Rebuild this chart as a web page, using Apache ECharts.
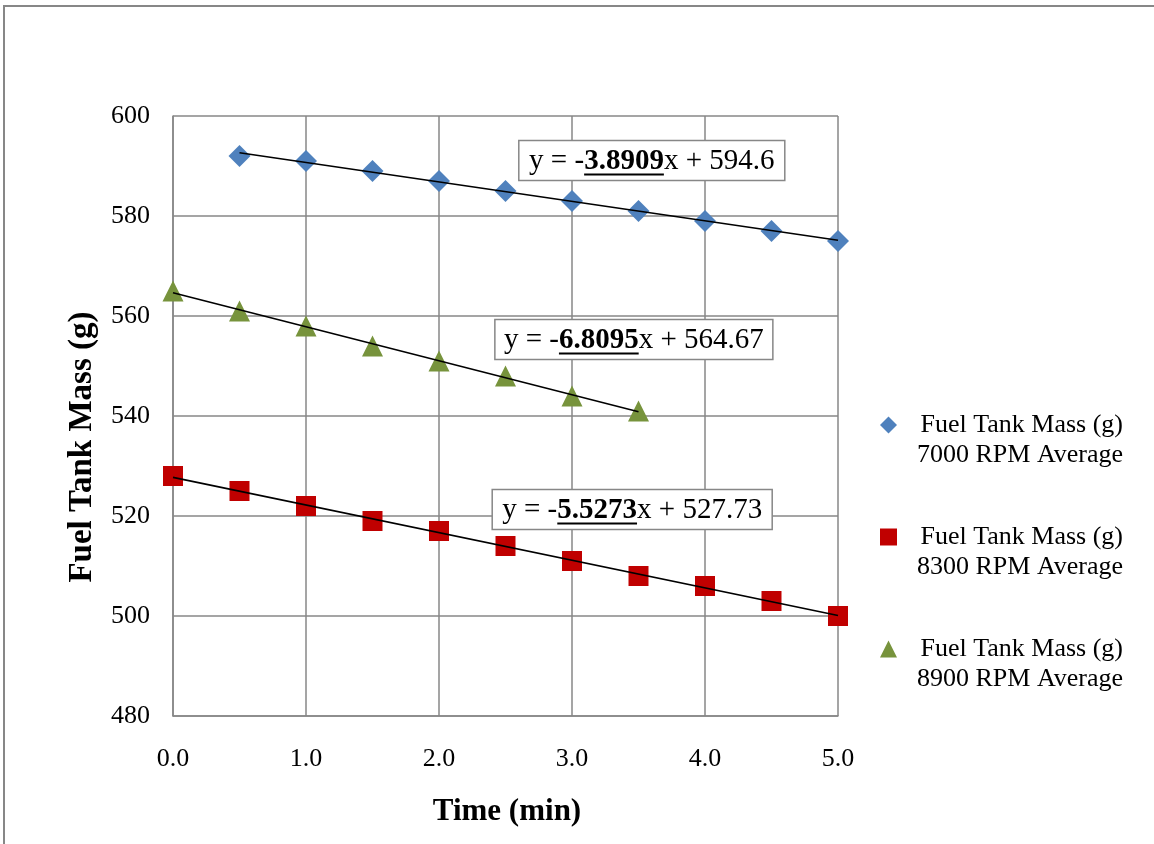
<!DOCTYPE html>
<html>
<head>
<meta charset="utf-8">
<script src="https://cdn.jsdelivr.net/npm/echarts@6/dist/echarts.min.js"></script>
<style>html,body{margin:0;padding:0;background:#fff}#c{width:1154px;height:844px}</style>
</head>
<body>
<div id="c"></div>
<script>
// ---- data ----
const time7000 = [0.5, 1.0, 1.5, 2.0, 2.5, 3.0, 3.5, 4.0, 4.5, 5.0];
const mass7000 = [592, 591, 589, 587, 585, 583, 581, 579, 577, 575];
const time8300 = [0.0, 0.5, 1.0, 1.5, 2.0, 2.5, 3.0, 3.5, 4.0, 4.5, 5.0];
const mass8300 = [528, 525, 522, 519, 517, 514, 511, 508, 506, 503, 500];
const time8900 = [0.0, 0.5, 1.0, 1.5, 2.0, 2.5, 3.0, 3.5];
const mass8900 = [565, 561, 558, 554, 551, 548, 544, 541];
const seriesNames = [
  'Fuel Tank Mass (g)\n7000 RPM Average',
  'Fuel Tank Mass (g)\n8300 RPM Average',
  'Fuel Tank Mass (g)\n8900 RPM Average'
];
const xAxisTitle = 'Time (min)';
const yAxisTitle = 'Fuel Tank Mass (g)';
const xRange = [0, 5, 1];
const yRange = [480, 600, 20];
// equation label anchors (data coords of box top-left), per series 7000, 8300, 8900
const eqAnchors = [[2.6, 595.1], [2.40, 525.3], [2.42, 559.3]];

const FONT = '"Liberation Serif", "Times New Roman", serif';
const colors = ['#4F81BD', '#C00000', '#77933C'];
const symbols = ['diamond', 'rect', 'triangle'];
const symbolSizes = [22, 20, 21];
const eqBoxWidths = [266, 280, 278];
const sets = [[time7000, mass7000], [time8300, mass8300], [time8900, mass8900]];

function regress(xs, ys) {
  const n = xs.length;
  const mx = xs.reduce((a, b) => a + b, 0) / n;
  const my = ys.reduce((a, b) => a + b, 0) / n;
  let sxy = 0, sxx = 0;
  for (let i = 0; i < n; i++) { sxy += (xs[i] - mx) * (ys[i] - my); sxx += (xs[i] - mx) ** 2; }
  const m = sxy / sxx;
  return { m, b: my - m * mx };
}
const fits = sets.map(s => regress(s[0], s[1]));

const series = [];
sets.forEach((s, i) => {
  series.push({
    name: seriesNames[i], type: 'scatter', symbol: symbols[i], symbolSize: symbolSizes[i],
    itemStyle: { color: colors[i], opacity: 1 }, z: 2,
    data: s[0].map((x, j) => [x, s[1][j]])
  });
});
sets.forEach((s, i) => {
  const x0 = Math.min(...s[0]), x1 = Math.max(...s[0]);
  const f = fits[i];
  series.push({
    name: 'trend' + i, type: 'line', symbol: 'none', z: 5, silent: true,
    lineStyle: { color: '#000', width: 1.6 },
    data: [[x0, f.m * x0 + f.b], [x1, f.m * x1 + f.b]]
  });
});

const chart = echarts.init(document.getElementById('c'), null, { renderer: 'canvas' });
chart.setOption({
  animation: false,
  backgroundColor: '#fff',
  grid: { left: 173, right: 316, top: 116, bottom: 128 },
  xAxis: {
    type: 'value', min: xRange[0], max: xRange[1], interval: xRange[2],
    axisLine: { lineStyle: { color: '#878787', width: 1.5 } },
    axisTick: { show: false },
    splitLine: { show: true, lineStyle: { color: '#878787', width: 1.5 } },
    axisLabel: { margin: 30, color: '#000', fontFamily: FONT, fontSize: 26, formatter: v => v.toFixed(1) }
  },
  yAxis: {
    type: 'value', min: yRange[0], max: yRange[1], interval: yRange[2],
    axisLine: { show: true, lineStyle: { color: '#878787', width: 1.5 } },
    axisTick: { show: false },
    splitLine: { show: true, lineStyle: { color: '#878787', width: 1.5 } },
    axisLabel: { margin: 23, color: '#000', fontFamily: FONT, fontSize: 26 }
  },
  legend: {
    orient: 'vertical', left: 880, top: 380, itemGap: 22, padding: 0,
    itemWidth: 17, itemHeight: 17,
    data: seriesNames.map((n, i) => ({ name: n, icon: symbols[i], itemStyle: { color: colors[i], opacity: 1 } })),
    formatter: n => { const p = n.split('\n'); return '{a|' + p[0] + '}\n{a|' + p[1] + '}'; },
    textStyle: {
      color: '#000', fontFamily: FONT, fontSize: 26, lineHeight: 30,
      width: 221, padding: [30, 0, 0, 0],
      rich: { a: { color: '#000', fontFamily: FONT, fontSize: 26, lineHeight: 30, align: 'right' } }
    }
  },
  series
});

// ---- annotations ----
function fmt(v) { return String(parseFloat(v.toPrecision(5))); }
const cv = document.createElement('canvas').getContext('2d');
function tw(text, bold, size) { cv.font = (bold ? 'bold ' : '') + size + 'px ' + FONT; return cv.measureText(text).width; }
const EQ_SIZE = 29, EQ_H = 40;
const graphics = [];
graphics.push({ type: 'rect', silent: true, z: -1, shape: { x: 4, y: 6, width: 1400, height: 1000 },
  style: { fill: null, stroke: '#878787', lineWidth: 2 } });
graphics.push({ type: 'text', silent: true, x: 82, y: 447, rotation: Math.PI / 2,
  style: { text: yAxisTitle, font: 'bold 33px ' + FONT, fill: '#000', align: 'center', verticalAlign: 'middle' } });
graphics.push({ type: 'text', silent: true, x: 507, y: 812,
  style: { text: xAxisTitle, font: 'bold 31px ' + FONT, fill: '#000', align: 'center', verticalAlign: 'middle' } });
fits.forEach((f, i) => {
  const p = chart.convertToPixel({ gridIndex: 0 }, eqAnchors[i]);
  const EQ_W = eqBoxWidths[i];
  const pre = 'y = -', mid = Math.abs(f.m).toFixed(4), post = 'x + ' + fmt(f.b);
  const w1 = tw(pre, false, EQ_SIZE), w2 = tw(mid, true, EQ_SIZE), w3 = tw(post, false, EQ_SIZE);
  const W = w1 + w2 + w3;
  const padX = (EQ_W - W) / 2;
  graphics.push({ type: 'rect', silent: true, z: 10, shape: { x: p[0], y: p[1], width: EQ_W, height: EQ_H },
    style: { fill: '#fff', stroke: '#878787', lineWidth: 1.5 } });
  graphics.push({ type: 'text', silent: true, z: 11, x: p[0] + padX, y: p[1] + EQ_H / 2 + 1,
    style: { text: '{n|' + pre + '}{b|' + mid + '}{n|' + post + '}', align: 'left', verticalAlign: 'middle',
      rich: { n: { font: EQ_SIZE + 'px ' + FONT, fill: '#000' }, b: { font: 'bold ' + EQ_SIZE + 'px ' + FONT, fill: '#000' } } } });
  graphics.push({ type: 'line', silent: true, z: 12,
    shape: { x1: p[0] + padX + w1, y1: p[1] + 34, x2: p[0] + padX + w1 + w2, y2: p[1] + 34 },
    style: { stroke: '#000', lineWidth: 2.2 } });
});
chart.setOption({ graphic: graphics });
</script>
</body>
</html>
